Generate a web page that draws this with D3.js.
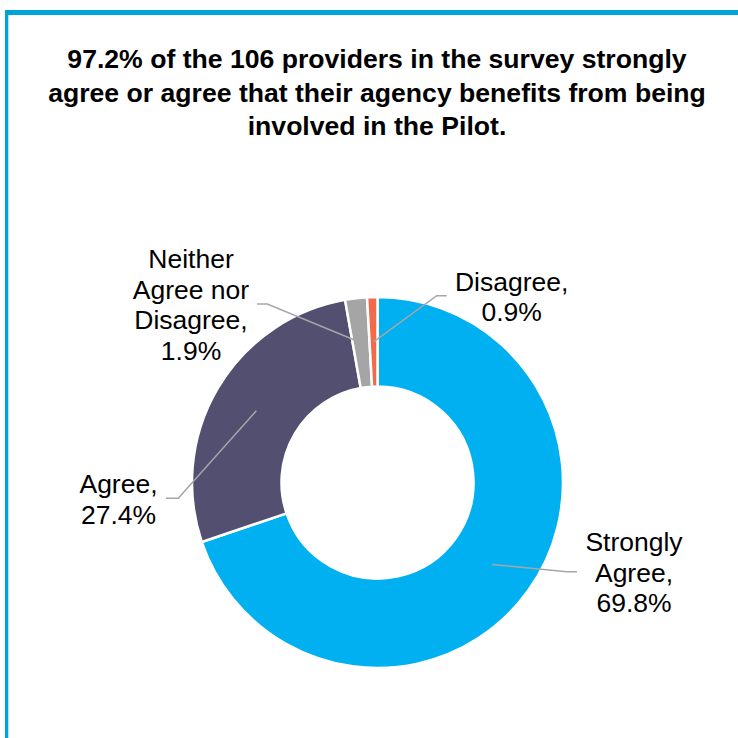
<!DOCTYPE html>
<html>
<head>
<meta charset="utf-8">
<script src="https://cdn.jsdelivr.net/npm/d3@7/dist/d3.min.js"></script>
<style>
  html, body { margin: 0; padding: 0; background: #fff; }
  svg { display: block; }
  text { font-family: "Liberation Sans", Arial, sans-serif; fill: #000; }
</style>
</head>
<body>
<svg id="chart" width="738" height="738"></svg>
<script>
// ---- data ----
const categories = ["Strongly Agree", "Agree", "Neither Agree nor Disagree", "Disagree"];
const values = [69.8, 27.4, 1.9, 0.9];
const labelLines = [
  ["Strongly", "Agree,", "69.8%"],
  ["Agree,", "27.4%"],
  ["Neither", "Agree nor", "Disagree,", "1.9%"],
  ["Disagree,", "0.9%"]
];
const titleLines = [
  "97.2% of the 106 providers in the survey strongly",
  "agree or agree that their agency benefits from being",
  "involved in the Pilot."
];

// ---- layout / style ----
const colors = ["#00B0F0", "#524F71", "#A5A5A5", "#F26A4B"];
const W = 738, H = 738;
const cx = 377.5, cy = 482.5, rOuter = 185.5, rInner = 96;
// leader elbow / end and label anchor (absolute layout positions)
const labelLayout = [
  { elbow: [566.7, 571.7], end: [577, 571.7], tx: 634, ty: 551 },
  { elbow: [178.3, 498.3], end: [166, 498.3], tx: 118.5, ty: 493.3 },
  { elbow: [267.3, 304], end: [257, 304], tx: 191, ty: 268.3 },
  { elbow: [436.7, 295.7], end: [446.7, 295.7], tx: 511.7, ty: 290.5 }
];

const svg = d3.select("#chart");
svg.append("rect").attr("width", W).attr("height", H).attr("fill", "#fff");

// frame
const frame = svg.append("g");
frame.append("rect").attr("x", 5).attr("y", 10).attr("width", W - 5).attr("height", 5).attr("fill", "#00A3D6");
frame.append("rect").attr("x", 5).attr("y", 10).attr("width", 3.3).attr("height", H - 10).attr("fill", "#00A3D6");

// title
const title = svg.append("text")
  .attr("text-anchor", "middle")
  .style("font-weight", "bold")
  .style("font-size", "26.6px");
titleLines.forEach((t, i) => {
  title.append("tspan").attr("x", 377).attr("y", 68.3 + i * 33.4).text(t);
});

// pie
const pie = d3.pie().sort(null).value(d => d).startAngle(0).endAngle(2 * Math.PI);
const arcs = pie(values);
const arc = d3.arc().innerRadius(rInner).outerRadius(rOuter);

const g = svg.append("g").attr("transform", `translate(${cx},${cy})`);
g.selectAll("path.slice")
  .data(arcs)
  .enter().append("path")
  .attr("class", "slice")
  .attr("d", arc)
  .attr("fill", (d, i) => colors[i])
  .attr("stroke", "#fff")
  .attr("stroke-width", 2.5)
  .attr("stroke-linejoin", "round");

// leader lines
arcs.forEach((d, i) => {
  const c = arc.centroid(d);
  const L = labelLayout[i];
  svg.append("polyline")
    .attr("points", [[cx + c[0], cy + c[1]], L.elbow, L.end].map(p => p.join(",")).join(" "))
    .attr("fill", "none")
    .attr("stroke", "#A6A6A6")
    .attr("stroke-width", 1.5);
});

// labels
labelLines.forEach((lines, i) => {
  const L = labelLayout[i];
  const t = svg.append("text")
    .attr("text-anchor", "middle")
    .style("font-size", "26.5px");
  lines.forEach((s, j) => {
    t.append("tspan").attr("x", L.tx).attr("y", L.ty + j * 30.5).text(s);
  });
});
</script>
</body>
</html>
